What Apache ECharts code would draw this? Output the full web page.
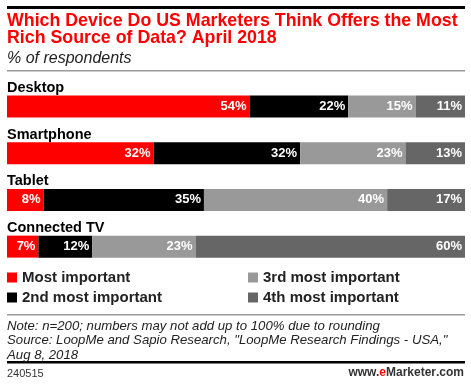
<!DOCTYPE html>
<html><head><meta charset="utf-8">
<script src="https://cdn.jsdelivr.net/npm/echarts@6/dist/echarts.min.js"></script>
<style>html,body{margin:0;padding:0;background:#fff}#c{width:471px;height:385px}</style>
</head><body><div id="c"></div>
<script>
var categories = ['Desktop', 'Smartphone', 'Tablet', 'Connected TV'];
var seriesNames = ['Most important', '2nd most important', '3rd most important', '4th most important'];
var mostImportant = [54, 32, 8, 7];
var second = [22, 32, 35, 12];
var third = [15, 23, 40, 23];
var fourth = [11, 13, 17, 60];
var colors = ['#ff0000', '#000000', '#999999', '#666666'];

var raw = [mostImportant, second, third, fourth];
var totals = categories.map(function (c, i) { return raw.reduce(function (s, a) { return s + a[i]; }, 0); });
var FONT = 'Liberation Sans, Arial, sans-serif';

var series = raw.map(function (arr, k) {
  return {
    name: seriesNames[k], type: 'bar', stack: 's', barWidth: 22,
    itemStyle: { color: colors[k] },
    data: arr.map(function (v, i) { return { value: v / totals[i] * 100, raw: v }; }),
    label: {
      show: true, position: 'insideRight', distance: 3,
      color: '#fff', fontWeight: 'bold', fontSize: 13, fontFamily: FONT,
      formatter: function (p) { return p.data.raw + '%'; }
    }
  };
});

var chart = echarts.init(document.getElementById('c'), null, { renderer: 'canvas' });
chart.setOption({
  animation: false,
  title: [
    { text: 'Which Device Do US Marketers Think Offers the Most\nRich Source of Data? April 2018', left: 7, top: 12, padding: 0,
      textStyle: { color: '#ff0000', fontWeight: 'bold', fontSize: 17.8, lineHeight: 17.5, fontFamily: FONT } },
    { text: '% of respondents', left: 7, top: 51, padding: 0,
      textStyle: { color: '#222', fontStyle: 'italic', fontWeight: 'normal', fontSize: 16, fontFamily: FONT } },
    { text: 'Note: n=200; numbers may not add up to 100% due to rounding\nSource: LoopMe and Sapio Research, "LoopMe Research Findings - USA,"\nAug 8, 2018', left: 7, top: 319, padding: 0,
      textStyle: { color: '#222', fontStyle: 'italic', fontWeight: 'normal', fontSize: 13.2, lineHeight: 14.5, fontFamily: FONT } },
    { text: '240515', left: 7, top: 368, padding: 0,
      textStyle: { color: '#333', fontWeight: 'normal', fontSize: 11, fontFamily: FONT } },
    { text: '{a|www.}{e|e}{b|Marketer}{a|.com}', right: 7, top: 367, padding: 0,
      textStyle: { rich: {
        a: { color: '#333', fontSize: 12, fontFamily: FONT },
        e: { color: '#ff0000', fontSize: 12, fontWeight: 'bold', fontFamily: FONT },
        b: { color: '#333', fontSize: 12, fontWeight: 'bold', fontFamily: FONT } } } }
  ],
  legend: [
    { data: seriesNames.slice(0, 2), orient: 'vertical', left: 7, top: 270, padding: 0, itemWidth: 10, itemHeight: 10, itemGap: 5,
      icon: 'rect', textStyle: { color: '#222', fontWeight: 'bold', fontSize: 15, fontFamily: FONT }, selectedMode: false },
    { data: seriesNames.slice(2), orient: 'vertical', left: 248, top: 270, padding: 0, itemWidth: 10, itemHeight: 10, itemGap: 5,
      icon: 'rect', textStyle: { color: '#222', fontWeight: 'bold', fontSize: 15, fontFamily: FONT }, selectedMode: false }
  ],
  grid: { left: 7, right: 6, top: 83, height: 187, containLabel: false },
  xAxis: { type: 'value', min: 0, max: 100, show: false },
  yAxis: {
    type: 'category', data: categories, inverse: true, z: 10,
    axisLine: { show: false }, axisTick: { show: false }, splitLine: { show: false },
    axisLabel: { show: true, interval: 0, inside: true, margin: 0, color: '#000', fontWeight: 'bold', fontSize: 14.5, fontFamily: FONT,
      align: 'left', verticalAlign: 'bottom', padding: [0, 0, 11, 0] }
  },
  graphic: [
    { type: 'rect', shape: { x: 7, y: 6, width: 458, height: 3 }, style: { fill: '#000' } },
    { type: 'rect', shape: { x: 7, y: 70, width: 458, height: 1.5 }, style: { fill: '#999' } },
    { type: 'rect', shape: { x: 7, y: 314, width: 458, height: 1.5 }, style: { fill: '#999' } },
    { type: 'rect', shape: { x: 7, y: 361, width: 458, height: 2.5 }, style: { fill: '#000' } }
  ],
  series: series
});
</script></body></html>
